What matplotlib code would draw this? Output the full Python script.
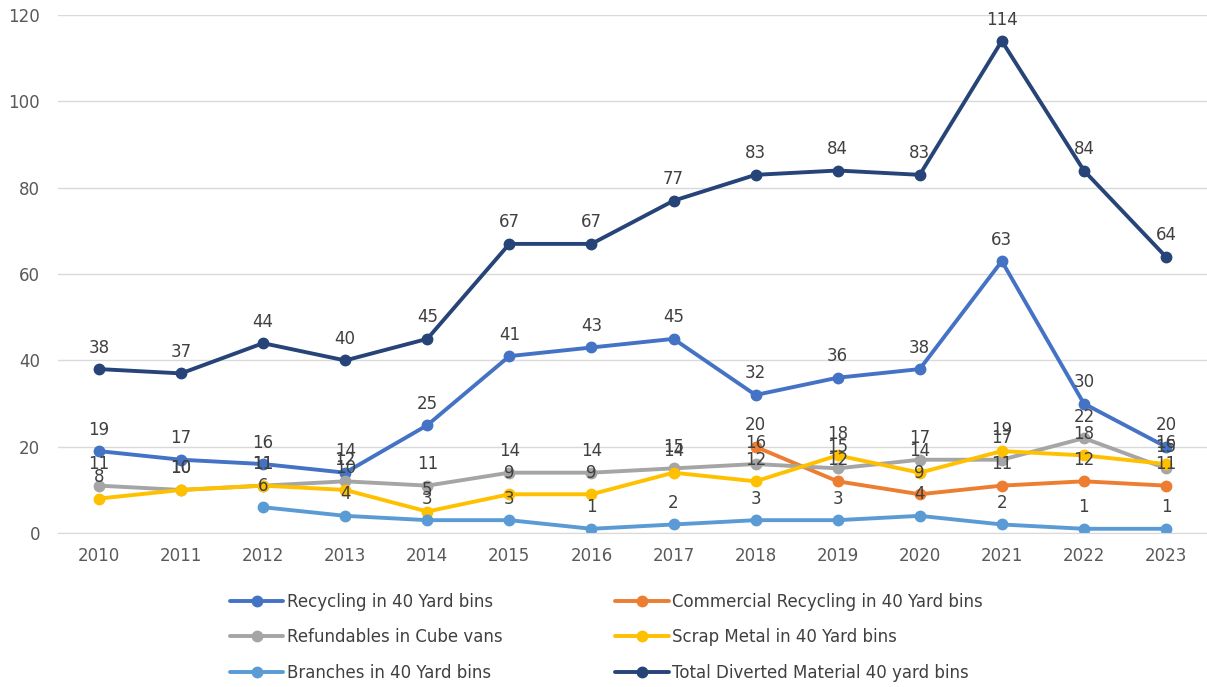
import matplotlib.pyplot as plt
import numpy as np

years = [str(y) for y in range(2010, 2024)]

recycling = [19, 17, 16, 14, 25, 41, 43, 45, 32, 36, 38, 63, 30, 20]
commercial = [None] * 8 + [20, 12, 9, 11, 12, 11]
refundables = [11, 10, 11, 12, 11, 14, 14, 15, 16, 15, 17, 17, 22, 15]
scrap = [8, 10, 11, 10, 5, 9, 9, 14, 12, 18, 14, 19, 18, 16]
branches = [None, None, 6, 4, 3, 3, 1, 2, 3, 3, 4, 2, 1, 1]
total = [38, 37, 44, 40, 45, 67, 67, 77, 83, 84, 83, 114, 84, 64]

series = [
    ("Recycling in 40 Yard bins", recycling, "#4472C4"),
    ("Commercial Recycling in 40 Yard bins", commercial, "#ED7D31"),
    ("Refundables in Cube vans", refundables, "#A5A5A5"),
    ("Scrap Metal in 40 Yard bins", scrap, "#FFC000"),
    ("Branches in 40 Yard bins", branches, "#5B9BD5"),
    ("Total Diverted Material 40 yard bins", total, "#264478"),
]

fig = plt.figure(figsize=(12.07, 6.87), dpi=100)
ax = fig.add_axes([0.048, 0.224, 0.952, 0.754])

x = np.arange(len(years))
for name, vals, color in series:
    y = np.array([np.nan if v is None else v for v in vals], dtype=float)
    ax.plot(x, y, color=color, lw=2.8, marker='o', markersize=7.5, label=name,
            solid_capstyle='round')
    for xi, v in zip(x, vals):
        if v is None:
            continue
        ax.annotate(str(v), (xi, v), xytext=(0, 9), textcoords='offset points',
                    ha='center', va='bottom', fontsize=12, color='#404040')

ax.set_xlim(-0.5, len(years) - 0.5)
ax.set_ylim(0, 120)
ax.set_yticks(range(0, 121, 20))
ax.set_xticks(x)
ax.set_xticklabels(years)
ax.tick_params(axis='both', length=0, labelsize=12, labelcolor='#595959')
ax.tick_params(axis='x', pad=10)
ax.tick_params(axis='y', pad=13)
ax.grid(axis='y', color='#D9D9D9', lw=1)
ax.set_axisbelow(True)
for s in ['left', 'right', 'top']:
    ax.spines[s].set_visible(False)
ax.spines['bottom'].set_color('#D9D9D9')

# legend filled row by row like Excel
handles, labels = ax.get_legend_handles_labels()
order = [0, 2, 4, 1, 3, 5]
leg = fig.legend([handles[i] for i in order], [labels[i] for i in order],
                 loc='lower left', bbox_to_anchor=(0.178, -0.014), ncol=2,
                 frameon=False, fontsize=12, labelcolor='#404040',
                 handlelength=3.2, handletextpad=0.2, columnspacing=6.8,
                 labelspacing=1.05)

fig.savefig('out.png', dpi=100)
